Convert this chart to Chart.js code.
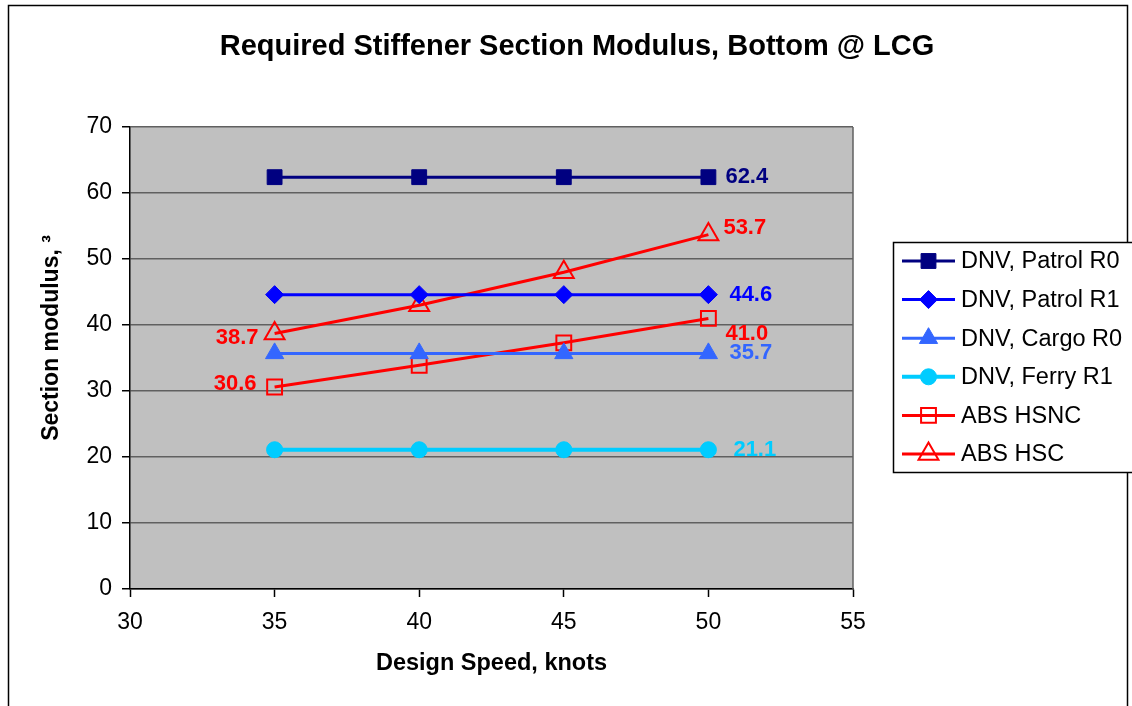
<!DOCTYPE html>
<html>
<head>
<meta charset="utf-8">
<script src="https://cdn.jsdelivr.net/npm/chart.js@4.4.1/dist/chart.umd.min.js"></script>
<style>
  body { margin: 0; background: #fff; }
  #wrap { width: 1132px; height: 706px; }
</style>
</head>
<body>
<div id="wrap"><canvas id="myChart" width="1132" height="706"></canvas></div>
<script>
var speeds = [35, 40, 45, 50];
var seriesNames = ['DNV, Patrol R0', 'DNV, Patrol R1', 'DNV, Cargo R0', 'DNV, Ferry R1', 'ABS HSNC', 'ABS HSC'];
var patrolR0 = [62.4, 62.4, 62.4, 62.4];
var patrolR1 = [44.6, 44.6, 44.6, 44.6];
var cargoR0 = [35.7, 35.7, 35.7, 35.7];
var ferryR1 = [21.1, 21.1, 21.1, 21.1];
var absHsnc = [30.6, 33.9, 37.3, 41.0];
var absHsc = [38.7, 43.0, 48.0, 53.7];
var xTicks = [30, 35, 40, 45, 50, 55];
var yTicks = [0, 10, 20, 30, 40, 50, 60, 70];

var chartTitle = 'Required Stiffener Section Modulus, Bottom @ LCG';
var xTitle = 'Design Speed, knots';
var yTitle = 'Section modulus, \u00B3';

function pts(vals) {
    return vals.map(function (v, i) { return { x: speeds[i], y: v }; });
}

var ctx = document.getElementById('myChart').getContext('2d');
var FONT = "'Liberation Sans', Arial, sans-serif";

function makeSet(i, vals, color, style, radius, open, width) {
    return {
        label: seriesNames[i],
        data: pts(vals),
        borderColor: color,
        backgroundColor: color,
        borderWidth: width,
        pointStyle: style,
        pointRadius: radius,
        pointBorderColor: color,
        pointBackgroundColor: open ? 'rgba(0,0,0,0)' : color,
        pointBorderWidth: open ? 2 : 1,
        tension: 0
    };
}

// which point of each series carries a value label, and where
var labelSpots = [
    [{ i: 3, dx: 17, dy: 0, align: 'left' }],
    [{ i: 3, dx: 21, dy: 0, align: 'left' }],
    [{ i: 3, dx: 21, dy: 0, align: 'left' }],
    [{ i: 3, dx: 25, dy: 0, align: 'left' }],
    [{ i: 0, dx: -18, dy: -3, align: 'right' }, { i: 3, dx: 17, dy: 16, align: 'left' }],
    [{ i: 0, dx: -16, dy: 4, align: 'right' }, { i: 3, dx: 15, dy: -7, align: 'left' }]
];

var decor = {
    id: 'decor',
    beforeDraw: function (chart) {
        var c = chart.ctx, a = chart.chartArea;
        c.save();
        c.fillStyle = '#fff';
        c.fillRect(0, 0, chart.width, chart.height);
        c.strokeStyle = '#000';
        c.lineWidth = 1.5;
        c.strokeRect(8.5, 5.5, 1119, 760);
        c.fillStyle = '#C0C0C0';
        c.fillRect(a.left, a.top, a.right - a.left, a.bottom - a.top);
        c.restore();
    },
    afterDraw: function (chart) {
        var c = chart.ctx, a = chart.chartArea;
        c.save();
        c.strokeStyle = '#606060';
        c.lineWidth = 1.5;
        c.beginPath();
        c.moveTo(a.right, a.top);
        c.lineTo(a.right, a.bottom);
        c.stroke();

        // title
        c.fillStyle = '#000';
        c.font = 'bold 29px ' + FONT;
        c.textAlign = 'center';
        c.textBaseline = 'middle';
        c.fillText(chartTitle, 577, 47);

        // y axis title
        c.save();
        c.translate(52, 338);
        c.rotate(-Math.PI / 2);
        c.font = 'bold 23px ' + FONT;
        c.fillText(yTitle, 0, 0);
        c.restore();

        // value labels
        c.font = 'bold 22px ' + FONT;
        chart.data.datasets.forEach(function (ds, k) {
            var meta = chart.getDatasetMeta(k);
            labelSpots[k].forEach(function (s) {
                var p = meta.data[s.i];
                c.fillStyle = ds.borderColor;
                c.textAlign = s.align;
                c.fillText(ds.data[s.i].y.toFixed(1), p.x + s.dx, p.y + s.dy);
            });
        });

        // legend box
        var lx = 893, ly = 242, lw = 260, lh = 230;
        c.fillStyle = '#fff';
        c.fillRect(lx, ly, lw, lh);
        c.strokeStyle = '#000';
        c.lineWidth = 1.5;
        c.strokeRect(lx + 0.5, ly + 0.5, lw, lh);
        c.font = '23.5px ' + FONT;
        c.textAlign = 'left';
        chart.data.datasets.forEach(function (ds, k) {
            var y = 261 + k * 38.6;
            c.strokeStyle = ds.borderColor;
            c.lineWidth = ds.borderWidth;
            c.beginPath();
            c.moveTo(902, y);
            c.lineTo(955, y);
            c.stroke();
            c.fillStyle = ds.pointBackgroundColor;
            c.strokeStyle = ds.pointBorderColor;
            c.lineWidth = ds.pointBorderWidth;
            Chart.helpers.drawPoint(c, {
                pointStyle: ds.pointStyle,
                radius: ds.pointRadius,
                rotation: 0,
                borderWidth: ds.pointBorderWidth
            }, 928.5, y);
            c.fillStyle = '#000';
            c.fillText(ds.label, 961, y + 1);
        });
        c.restore();
    }
};

var chart = new Chart(ctx, {
    type: 'line',
    data: {
        datasets: [
            makeSet(0, patrolR0, '#000080', 'rect', 10.5, false, 3),
            makeSet(1, patrolR1, '#0000FF', 'rectRot', 9, false, 3),
            makeSet(2, cargoR0, '#3366FF', 'triangle', 10.5, false, 3),
            makeSet(3, ferryR1, '#00CCFF', 'circle', 8, false, 4),
            makeSet(4, absHsnc, '#FF0000', 'rect', 10.5, true, 3),
            makeSet(5, absHsc, '#FF0000', 'triangle', 11.5, true, 3)
        ]
    },
    options: {
        responsive: false,
        animation: false,
        layout: { padding: { left: 0, top: 127, right: 279, bottom: 0 } },
        plugins: {
            legend: { display: false },
            tooltip: { enabled: false },
            title: { display: false }
        },
        scales: {
            x: {
                type: 'linear',
                min: 30,
                max: 55,
                afterBuildTicks: function (s) { s.ticks = xTicks.map(function (v) { return { value: v }; }); },
                afterFit: function (s) { s.height = 117; },
                ticks: { color: '#000', padding: 12, font: { family: FONT, size: 23 } },
                grid: { drawOnChartArea: false, drawTicks: true, tickLength: 8, tickColor: '#000', tickWidth: 1.5 },
                border: { display: true, color: '#000', width: 1.5 },
                title: {
                    display: true,
                    text: xTitle,
                    color: '#000',
                    font: { family: FONT, size: 23.5, weight: 'bold' },
                    padding: { top: 0, bottom: 28 }
                }
            },
            y: {
                min: 0,
                max: 70,
                afterBuildTicks: function (s) { s.ticks = yTicks.map(function (v) { return { value: v }; }); },
                afterFit: function (s) { s.width = 130; },
                ticks: { color: '#000', padding: 10, font: { family: FONT, size: 23 } },
                grid: { color: '#606060', lineWidth: 1.5, tickLength: 8, tickColor: '#000', tickWidth: 1.5 },
                border: { display: true, color: '#000', width: 1.5 }
            }
        }
    },
    plugins: [decor]
});
</script>
</body>
</html>
